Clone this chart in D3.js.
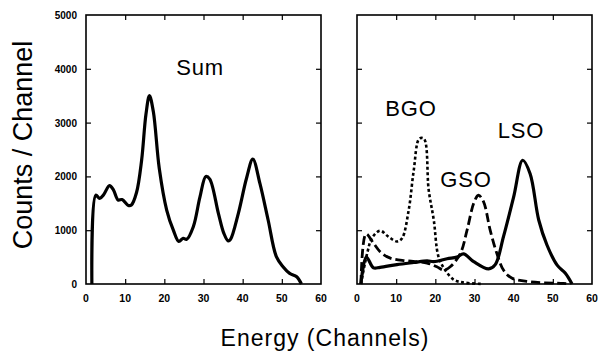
<!DOCTYPE html>
<html>
<head>
<meta charset="utf-8">
<script src="https://cdn.jsdelivr.net/npm/d3@7"></script>
<style>
  body { margin: 0; background: #fff; }
  text { font-family: "Liberation Sans", Arial, sans-serif; }
</style>
</head>
<body>
<svg></svg>
<script>
// [channel, counts]
const sumData = [[1.5,0],[2.5,1650],[3.5,1590],[4.5,1660],[6,1830],[7,1750],[8.2,1560],[9.2,1570],[10.8,1460],[11.6,1470],[12.9,1700],[14.2,2300],[15.3,3150],[16.2,3500],[17.2,3200],[18.7,2150],[20.6,1375],[22.3,1000],[23.7,790],[24.8,850],[25.7,830],[27.4,1065],[29.1,1620],[30.6,2000],[31.6,1950],[33.8,1314],[35.2,942],[36.3,800],[36.9,830],[38.9,1314],[41,1970],[42.6,2320],[44.4,1870],[46.5,1190],[48.6,508],[50.3,322],[52,198],[53.8,135],[55,0]];
const lsoData = [[1,0],[2.4,500],[4.2,300],[5.9,310],[10.2,360],[14.5,400],[17.9,430],[19.6,415],[23,470],[25.5,500],[27.2,560],[29.8,415],[33.6,280],[35.3,360],[37.4,880],[40,1620],[42.3,2300],[44.2,2050],[46.4,1190],[48.5,725],[51.1,350],[53.2,200],[54.9,0]];
const bgoData = [[1,0],[2.6,570],[3.8,850],[5.9,990],[8,880],[10.2,790],[11.5,850],[13.2,1375],[14.5,2120],[15.9,2700],[17.1,2700],[18.3,1750],[19.6,1190],[20.8,510],[22.5,260],[24.7,80],[27,30],[32,0]];
const gsoData = [[1,0],[2.3,930],[4.2,760],[5.9,600],[8.5,480],[12.8,430],[17.9,390],[20.4,320],[22.1,260],[23.8,320],[26.4,570],[28.1,1000],[29.8,1500],[31,1650],[32.3,1530],[34,1000],[35.7,570],[37.4,260],[39.5,110],[44.2,40],[52.7,10],[54,0]];

const xTicks = [0, 10, 20, 30, 40, 50, 60];
const yTicks = [0, 1000, 2000, 3000, 4000, 5000];

const width = 604, height = 354;
const svg = d3.select("svg").attr("width", width).attr("height", height);

const y = d3.scaleLinear().domain([0, 5000]).range([284, 15]);

function panel(left, right, showY) {
  const x = d3.scaleLinear().domain([0, 60]).range([left, right]);
  const g = svg.append("g");

  // inward ticks on all four sides
  g.append("g").attr("transform", "translate(0,284)")
    .call(d3.axisTop(x).tickValues(xTicks.slice(1, -1)).tickSize(5).tickFormat(""));
  g.append("g").attr("transform", "translate(0,15)")
    .call(d3.axisBottom(x).tickValues(xTicks.slice(1, -1)).tickSize(5).tickFormat(""));
  g.append("g").attr("transform", `translate(${left},0)`)
    .call(d3.axisRight(y).tickValues(yTicks.slice(1, -1)).tickSize(5).tickFormat(""));
  g.append("g").attr("transform", `translate(${right},0)`)
    .call(d3.axisLeft(y).tickValues(yTicks.slice(1, -1)).tickSize(5).tickFormat(""));
  g.selectAll(".domain").remove();
  g.selectAll(".tick line").attr("stroke", "#000").attr("stroke-width", 1.2);

  g.append("rect")
    .attr("x", left).attr("y", 15)
    .attr("width", right - left).attr("height", 269)
    .attr("fill", "none").attr("stroke", "#000").attr("stroke-width", 1.6);

  g.selectAll(".xl").data(xTicks).enter().append("text")
    .attr("x", d => x(d)).attr("y", 302)
    .attr("text-anchor", "middle")
    .attr("font-size", 10.5).attr("font-weight", "bold")
    .text(d => d);

  if (showY) {
    g.selectAll(".yl").data(yTicks).enter().append("text")
      .attr("x", left - 9).attr("y", d => y(d) + 4)
      .attr("text-anchor", "end")
      .attr("font-size", 10).attr("font-weight", "bold")
      .text(d => d);
  }
  return x;
}

function curve(x, data, dash, w) {
  const line = d3.line()
    .x(d => x(d[0])).y(d => y(d[1]))
    .curve(d3.curveCatmullRom.alpha(0.5));
  svg.append("path")
    .datum(data)
    .attr("d", line)
    .attr("fill", "none")
    .attr("stroke", "#000")
    .attr("stroke-width", w)
    .attr("stroke-linejoin", "round")
    .attr("stroke-dasharray", dash);
}

const xl = panel(86, 321, true);
const xr = panel(357, 592, false);

curve(xl, sumData, null, 3.2);
curve(xr, bgoData, "3,2.5", 2.6);
curve(xr, gsoData, "9,4", 2.8);
curve(xr, lsoData, null, 3.2);

const labels = [
  { t: "Sum", x: 200, y: 75 },
  { t: "BGO", x: 411, y: 116 },
  { t: "GSO", x: 466, y: 187 },
  { t: "LSO", x: 521, y: 138 }
];
svg.selectAll(".lab").data(labels).enter().append("text")
  .attr("x", d => d.x).attr("y", d => d.y)
  .attr("text-anchor", "middle")
  .attr("font-size", 22).attr("letter-spacing", 0.8)
  .text(d => d.t);

svg.append("text")
  .attr("transform", "translate(32,145) rotate(-90)")
  .attr("text-anchor", "middle")
  .attr("font-size", 27)
  .text("Counts / Channel");

svg.append("text")
  .attr("x", 325).attr("y", 346)
  .attr("text-anchor", "middle")
  .attr("font-size", 23).attr("letter-spacing", 1)
  .text("Energy (Channels)");
</script>
</body>
</html>
